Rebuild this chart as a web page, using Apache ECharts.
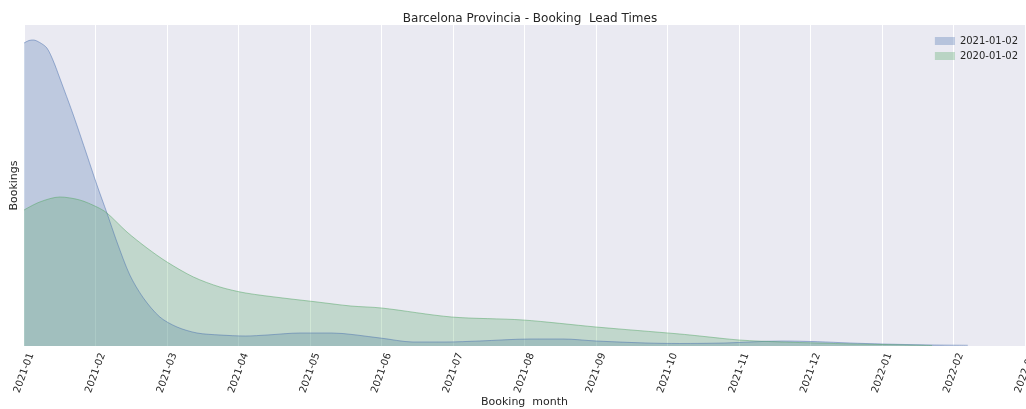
<!DOCTYPE html>
<html>
<head>
<meta charset="utf-8">
<script src="https://cdn.jsdelivr.net/npm/echarts@6/dist/echarts.min.js"></script>
<style>html,body{margin:0;padding:0;background:#fff}#c{width:1026px;height:409px}</style>
</head>
<body>
<div id="c"></div>
<script>
// x = months since 2021-01, y = bookings density (relative)
const monthLabels = ['2021-01','2021-02','2021-03','2021-04','2021-05','2021-06','2021-07','2021-08','2021-09','2021-10','2021-11','2021-12','2022-01','2022-02','2022-03'];
const seriesNames = ['2021-01-02','2020-01-02'];
const blueX = [0,0.07,0.13,0.22,0.32,0.41,0.5,0.69,0.88,1.02,1.16,1.3,1.48,1.67,1.9,2.14,2.42,2.74,3.1,3.4,3.86,4.3,4.98,5.44,5.9,6.37,7.08,7.54,8.0,8.7,9.17,9.8,10.6,11.1,11.55,12.0,12.7,13.2];
const blueY = [303,305.5,306,303.5,298,285,268,231,191,161,133,104,71,48,29,19,13,11,10,11,13,13,8,4,4,5,7,7,5,3,2.5,3,5,4.3,3,2,1,0.7];
const greenX = [0,0.22,0.5,0.78,1.02,1.16,1.44,1.72,2.0,2.37,2.74,3.1,3.62,4.1,4.57,5.0,5.98,6.98,8.0,9.17,9.45,10.0,10.6,11.1,11.6,12.0,12.7];
const greenY = [136,144,149,146,139,133,114,98,84,69,59,53,48,44,40,38,29,26,19,12,10,6,4,3,2,1.5,0.5];

function pairs(xs, ys){ return xs.map((x,i)=>[x, ys[i]]); }

const chart = echarts.init(document.getElementById('c'));
const font = 'DejaVu Sans';
chart.setOption({
  animation: false,
  textStyle: {fontFamily: font},
  title: {
    text: 'Barcelona Provincia - Booking  Lead Times',
    left: 525, top: 8, textAlign: 'center',
    textStyle: {fontSize: 12, fontWeight: 'normal', color: '#262626', fontFamily: font}
  },
  legend: {
    right: 3, top: 31, orient: 'vertical', itemWidth: 20, itemHeight: 8, itemGap: 5,
    icon: 'rect',
    textStyle: {fontSize: 10, color: '#262626', fontFamily: font},
    data: [
      {name: seriesNames[0], itemStyle: {color: 'rgba(76,114,176,0.33)', borderWidth: 0}},
      {name: seriesNames[1], itemStyle: {color: 'rgba(85,168,104,0.33)', borderWidth: 0}}
    ]
  },
  grid: {left: 24, right: 1, top: 25, bottom: 63, show: true, backgroundColor: '#eaeaf2', borderWidth: 0,
    containLabel: false, outerBoundsMode: 'none'},
  xAxis: {
    type: 'value', min: 0, max: 14, interval: 1,
    name: 'Booking  month', nameLocation: 'middle', nameGap: 51, nameMoveOverlap: false,
    nameTextStyle: {fontSize: 11, color: '#262626', fontFamily: font, verticalAlign: 'top'},
    axisLine: {show: false}, axisTick: {show: false},
    axisLabel: {rotate: 70, fontSize: 10, color: '#262626', margin: 27, showMaxLabel: true,
      align: 'center', verticalAlign: 'middle',
      formatter: v => monthLabels[Math.round(v)] || ''},
    splitLine: {show: true, lineStyle: {color: '#ffffff', width: 1}}
  },
  yAxis: {
    type: 'value', min: 0, max: 321,
    name: 'Bookings', nameLocation: 'middle', nameGap: 4, nameMoveOverlap: false,
    nameTextStyle: {fontSize: 11, color: '#262626', fontFamily: font},
    axisLine: {show: false}, axisTick: {show: false}, axisLabel: {show: false},
    splitLine: {show: false}
  },
  series: [
    {
      name: seriesNames[0], type: 'line', smooth: 0.3, symbol: 'none',
      data: pairs(blueX, blueY),
      itemStyle: {color: 'rgba(76,114,176,0.3)'},
      lineStyle: {color: 'rgba(76,114,176,0.5)', width: 1},
      areaStyle: {color: 'rgba(76,114,176,0.28)', opacity: 1}
    },
    {
      name: seriesNames[1], type: 'line', smooth: 0.3, symbol: 'none',
      data: pairs(greenX, greenY),
      itemStyle: {color: 'rgba(85,168,104,0.3)'},
      lineStyle: {color: 'rgba(85,168,104,0.5)', width: 1},
      areaStyle: {color: 'rgba(85,168,104,0.27)', opacity: 1}
    }
  ]
});
</script>
</body>
</html>
